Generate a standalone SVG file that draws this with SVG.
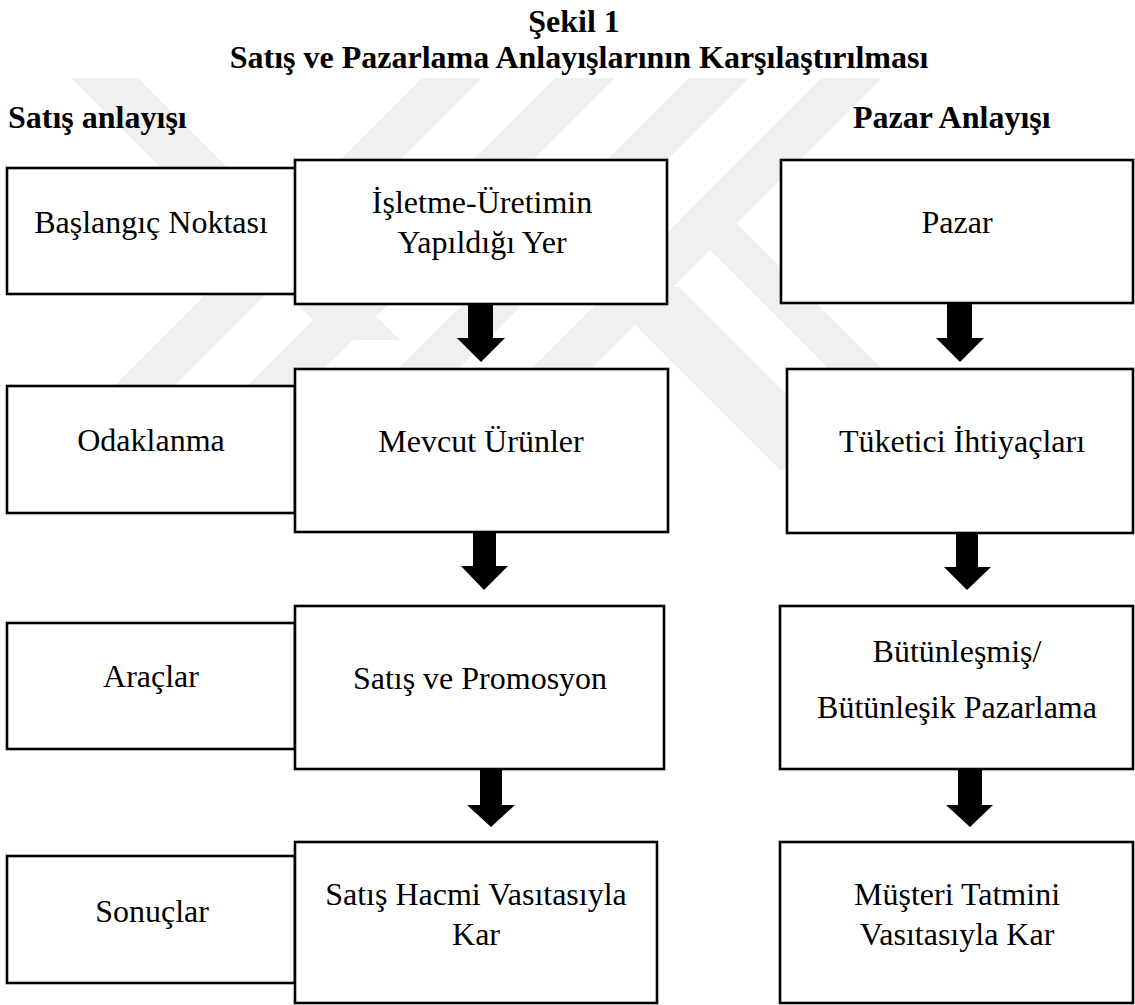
<svg xmlns="http://www.w3.org/2000/svg" width="1135" height="1005" viewBox="0 0 1135 1005">
  <style>
    .title { font-family: "Liberation Serif", "Times New Roman", serif; font-weight: bold; font-size: 32px; fill: #000; }
    .label { font-family: "Liberation Serif", "Times New Roman", serif; font-size: 32px; fill: #000; text-anchor: middle; }
    .box { fill: #fff; stroke: #000; stroke-width: 2.6; }
    .arrow { fill: #000; }
    .wm { fill: #f0f0f0; }
  </style>
  <defs>
    <clipPath id="wmClip">
      <rect x="0" y="78" width="1135" height="392"/>
    </clipPath>
  </defs>

  <rect width="1135" height="1005" fill="#fff"/>

  <!-- faint background emblem: 45-degree bands -->
  <g id="emblem" clip-path="url(#wmClip)">
    <polygon class="wm" points="68,75 135,75 400,340 333,340"/>
    <polygon class="wm" points="425,75 485,75 90,470 30,470"/>
    <polygon class="wm" points="558,75 618,75 223,470 163,470"/>
    <polygon class="wm" points="692,75 752,75 357,470 297,470"/>
    <polygon class="wm" points="825,75 885,75 490,470 430,470"/>
    <polygon class="wm" points="825,75 878,75 733,220 983,470 930,470 680,220"/>
    <polygon class="wm" points="610,300 640,300 810,470 780,470 623,313"/>
    <polygon class="wm" points="626,287 679,287 862,470 809,470"/>
  </g>

  <!-- title -->
  <text class="title" x="574" y="32" text-anchor="middle">Şekil 1</text>
  <text class="title" x="579" y="68" text-anchor="middle">Satış ve Pazarlama Anlayışlarının Karşılaştırılması</text>
  <text class="title" x="8" y="128">Satış anlayışı</text>
  <text class="title" x="853" y="128">Pazar Anlayışı</text>

  <!-- connectors -->
  <g id="connectors">
    <polygon class="arrow" points="468,304 493,304 493,338 505,338 481,362 457,338 468,338"/>
    <polygon class="arrow" points="947,304 972,304 972,338 984,338 960,362 936,338 947,338"/>
    <polygon class="arrow" points="473,532 496,532 496,566 508,566 484,590 461,566 473,566"/>
    <polygon class="arrow" points="956,533 978,533 978,567 991,567 967,590 944,567 956,567"/>
    <polygon class="arrow" points="480,769 502,769 502,805 515,805 491,827 467,805 480,805"/>
    <polygon class="arrow" points="958,769 982,769 982,805 993,805 970,827 946,805 958,805"/>
  </g>

  <!-- row 1 -->
  <g id="baslangic">
    <rect class="box" x="7" y="168" width="289" height="126"/>
    <text class="label" x="151" y="233">Başlangıç Noktası</text>
  </g>
  <g id="isletme">
    <rect class="box" x="295" y="160" width="372" height="144"/>
    <text class="label" x="482" y="213">İşletme-Üretimin</text>
    <text class="label" x="482" y="253">Yapıldığı Yer</text>
  </g>
  <g id="pazar">
    <rect class="box" x="781" y="160" width="352" height="143"/>
    <text class="label" x="957" y="233">Pazar</text>
  </g>

  <!-- row 2 -->
  <g id="odaklanma">
    <rect class="box" x="7" y="386" width="288" height="127"/>
    <text class="label" x="151" y="451">Odaklanma</text>
  </g>
  <g id="mevcut">
    <rect class="box" x="295" y="369" width="373" height="163"/>
    <text class="label" x="481" y="452">Mevcut Ürünler</text>
  </g>
  <g id="tuketici">
    <rect class="box" x="787" y="369" width="346" height="164"/>
    <text class="label" x="962" y="452">Tüketici İhtiyaçları</text>
  </g>

  <!-- row 3 -->
  <g id="araclar">
    <rect class="box" x="7" y="623" width="288" height="126"/>
    <text class="label" x="151" y="687">Araçlar</text>
  </g>
  <g id="satis-promosyon">
    <rect class="box" x="295" y="606" width="369" height="163"/>
    <text class="label" x="480" y="689">Satış ve Promosyon</text>
  </g>
  <g id="butunlesmis">
    <rect class="box" x="780" y="606" width="353" height="163"/>
    <text class="label" x="957" y="662">Bütünleşmiş/</text>
    <text class="label" x="957" y="718">Bütünleşik Pazarlama</text>
  </g>

  <!-- row 4 -->
  <g id="sonuclar">
    <rect class="box" x="7" y="856" width="288" height="127"/>
    <text class="label" x="152" y="922">Sonuçlar</text>
  </g>
  <g id="satis-hacmi">
    <rect class="box" x="295" y="842" width="362" height="161"/>
    <text class="label" x="476" y="905">Satış Hacmi Vasıtasıyla</text>
    <text class="label" x="476" y="945">Kar</text>
  </g>
  <g id="musteri">
    <rect class="box" x="780" y="842" width="353" height="161"/>
    <text class="label" x="957" y="905">Müşteri Tatmini</text>
    <text class="label" x="957" y="945">Vasıtasıyla Kar</text>
  </g>
</svg>
